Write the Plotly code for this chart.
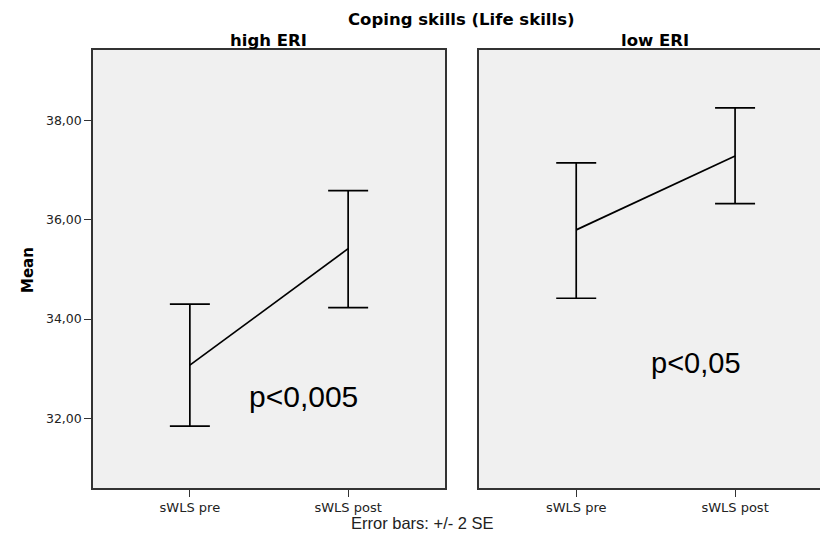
import plotly.graph_objects as go

categories = ["sWLS pre", "sWLS post"]
high_mean = [33.07, 35.42]
high_upper = [34.30, 36.59]
high_lower = [31.84, 34.23]
low_mean = [35.80, 37.29]
low_upper = [37.15, 38.26]
low_lower = [34.42, 36.33]
yticks = [32, 34, 36, 38]

# page has an 8px body margin; figure coords = screen coords - 8
OFF = 8
W, H = 820, 526
L, T, B = 85, 42, 46
PW = W - L
PH = H - T - B


def px(sx):
    return (sx - OFF - L) / PW


def py(sy):
    return (H - B - (sy - OFF)) / PH


fig = go.Figure()


def add_series(mean, upper, lower, xa, ya):
    fig.add_trace(go.Scatter(
        x=categories, y=mean, mode="lines", xaxis=xa, yaxis=ya,
        line=dict(color="black", width=1.7), showlegend=False,
        error_y=dict(type="data", symmetric=False,
                     array=[u - m for u, m in zip(upper, mean)],
                     arrayminus=[m - l for m, l in zip(mean, lower)],
                     color="black", thickness=1.7, width=20),
    ))


add_series(high_mean, high_upper, high_lower, "x", "y")
add_series(low_mean, low_upper, low_lower, "x2", "y2")

axis_line = "#333333"
xtickfont = dict(family="DejaVu Sans", size=13, color="#222222")
ytickfont = dict(family="DejaVu Sans", size=12.5, color="#222222")
yrange = [30.59, 39.43]

fig.update_layout(
    width=W, height=H,
    margin=dict(l=L, r=0, t=T, b=B, pad=0),
    paper_bgcolor="white", plot_bgcolor="#f0f0f0",
    separators=",.",
    font=dict(family="Liberation Sans, Arial", color="black"),
    xaxis=dict(domain=[0, 352 / PW], type="category", range=[-0.612, 1.612],
               showline=True, linecolor=axis_line, linewidth=1.5, mirror=True,
               ticks="outside", ticklen=7, tickcolor=axis_line,
               showgrid=False, zeroline=False, tickfont=xtickfont),
    yaxis=dict(range=yrange, tickvals=yticks, tickformat=".2f",
               showline=True, linecolor=axis_line, linewidth=1.5, mirror=True,
               ticks="outside", ticklen=7, tickcolor=axis_line,
               showgrid=False, zeroline=False, tickfont=ytickfont),
    xaxis2=dict(domain=[(479 - 93) / PW, 1], type="category", range=[-0.612, 1.585],
                anchor="y2",
                showline=True, linecolor=axis_line, linewidth=1.5, mirror=True,
                ticks="outside", ticklen=7, tickcolor=axis_line,
                showgrid=False, zeroline=False, tickfont=xtickfont),
    yaxis2=dict(range=yrange, anchor="x2", showticklabels=False, ticks="",
                showline=True, linecolor=axis_line, linewidth=1.5,
                showgrid=False, zeroline=False),
)

bold = dict(family="DejaVu Sans", size=16.5, color="black")


def note(text, sx, sy, font, yanchor="middle"):
    fig.add_annotation(text=text, xref="paper", yref="paper",
                       x=px(sx), y=py(sy), showarrow=False, font=font,
                       xanchor="center", yanchor=yanchor)


note("<b>Coping skills (Life skills)</b>", 461.5, 8, bold, yanchor="top")
note("<b>high ERI</b>", 268, 41, bold)
note("<b>low ERI</b>", 655, 41, bold)
note("Error bars: +/- 2 SE", 422, 523,
     dict(family="Liberation Sans, Arial", size=16.5, color="#222222"))
note("p<0,005", 303.5, 396, dict(family="Liberation Sans, Arial", size=30, color="black"))
note("p<0,05", 696, 363, dict(family="Liberation Sans, Arial", size=29, color="black"))
fig.add_annotation(text="<b>Mean</b>", xref="paper", yref="paper",
                   x=px(28), y=py(270), showarrow=False, textangle=-90,
                   font=dict(family="DejaVu Sans", size=15, color="black"),
                   xanchor="center", yanchor="middle")

fig.write_html("out.html")
